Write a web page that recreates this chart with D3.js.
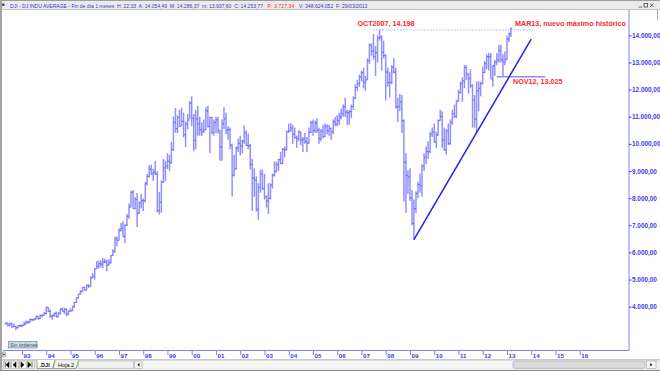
<!DOCTYPE html>
<html>
<head>
<meta charset="utf-8">
<script src="https://cdn.jsdelivr.net/npm/d3@7"></script>
<style>
  body { margin: 0; background: #fff; }
  svg { display: block; font-family: "Liberation Sans", Arial, sans-serif; }
</style>
</head>
<body>
<div id="chart"></div>
<script>
// monthly bars of the DJI, first bar = May 1992, last bar = Mar 2013
var firstMonth = "1992-05";

var opens = [
  3359,3397,3319,3394,3257,3272,3226,3305,
  3301,3310,3371,3435,3428,3527,3516,3540,3651,3555,3681,3684,
  3754,3978,3832,3636,3682,3758,3625,3765,3913,3843,3908,3739,
  3834,3844,4011,4158,4321,4465,4556,4709,4611,4789,4756,5075,
  5117,5395,5486,5587,5569,5643,5655,5529,5616,5882,6029,6522,
  6448,6813,6878,6584,7009,7331,7673,8223,7622,7945,7442,7823,
  7908,7907,8546,8800,9063,8900,8952,8883,7539,7843,8592,9117,
  9181,9359,9307,9786,10789,10560,10971,10655,10829,10337,10730,10878,
  11497,10941,10128,10922,10734,10522,10448,10522,11215,10651,10971,10415,
  10787,10887,10495,9879,10735,10912,10502,10523,9950,8848,9075,9852,
  10022,9920,10106,10404,9946,9925,9243,8737,8664,7592,8397,8896,
  8342,8054,7891,7992,8480,8850,8985,9234,9416,9275,9801,9783,
  10454,10488,10584,10358,10226,10189,10436,10140,10174,10080,10028,10428,
  10783,10490,10766,10504,10193,10467,10275,10641,10482,10569,10440,10806,
  10718,10865,10993,11109,11367,11168,11150,11186,11381,11679,12081,12222,
  12463,12622,12269,12354,13063,13628,13409,13212,13358,13896,13930,13372,
  13265,12650,12266,12263,12820,12638,11350,11378,11544,10851,9325,8829,
  8776,8001,7063,7609,8168,8500,8447,9172,9496,9712,9713,10345,
  10428,10067,10325,10857,11009,10137,9774,10466,10015,10788,11119,11006,
  11578,11892,12226,12320,12811,12570,12414,12143,11614,10913,11955,12046,
  12218,12633,12952,13212,13214,12394,12880,13009,13091,13437,13097,13026,
  13104,13861,14054.49
];
var highs = [
  3414,3413,3404,3395,3383,3285,3318,3340,
  3343,3450,3495,3482,3562,3553,3578,3663,3660,3700,3710,3800,
  3998,3985,3900,3720,3780,3820,3782,3935,3970,3960,3930,3870,
  3945,4030,4170,4340,4470,4605,4730,4735,4801,4825,5110,5235,
  5420,5680,5700,5710,5800,5770,5735,5750,5905,6120,6560,6600,
  6890,7080,7150,7040,7420,7800,8260,8300,8030,8190,7880,8150,
  7990,8590,8900,9210,9230,9080,9370,8990,8230,8650,9440,9380,
  9650,9600,10080,11010,11320,11050,11250,11330,11150,10830,11100,11570,
  11750,11100,11250,11400,11000,10800,10900,11350,11400,11000,11000,10900,
  11000,11000,10500,10900,11350,11150,10650,10600,10000,9600,9900,10200,
  10300,10150,10680,10500,10380,10000,9450,9100,8800,8550,9050,9050,
  8900,8100,8550,8550,8900,9350,9350,9450,9700,9850,9900,10480,
  10750,10760,10700,10600,10300,10500,10450,10250,10400,10250,10600,10850,
  10900,10850,10950,10600,10550,10700,10750,10720,10700,10600,10900,10990,
  11050,11150,11300,11450,11700,11250,11250,11450,11750,12200,12350,12550,
  12700,12800,12500,13150,13700,13700,14050,13600,14000,14198,14000,13800,
  13300,12800,12650,12900,13150,12800,11700,11850,11800,10900,9650,9030,
  9100,8300,7950,8250,8600,8900,9250,9650,9900,10100,10450,10600,
  10750,10450,10900,11260,11200,10600,10550,10750,10900,11250,11450,11600,
  12000,12300,12450,12900,12900,12600,12750,12200,11800,12300,12300,12300,
  12850,13050,13300,13350,13350,12900,13100,13350,13650,13650,13300,13400,
  13980,14100,14286.37
];
var lows = [
  3337,3273,3280,3228,3249,3136,3200,3255,
  3242,3290,3345,3370,3407,3463,3482,3527,3526,3545,3600,3666,
  3715,3800,3593,3520,3630,3612,3611,3710,3820,3740,3650,3675,
  3825,3830,3960,4140,4310,4445,4540,4585,4600,4690,4740,5030,
  5000,5390,5400,5450,5420,5600,5310,5520,5590,5880,6000,6230,
  6440,6760,6580,6340,6970,7240,7660,7620,7580,6940,7420,7630,
  7530,7850,8470,8770,8850,8630,8850,7470,7400,7470,8560,8620,
  9070,9000,9270,9740,10410,10400,10620,10660,10240,9880,10530,10910,
  10650,9730,9800,10300,10300,10300,10400,10500,10600,9650,10350,10300,
  10400,10380,9380,9380,10550,10350,10150,9800,8060,8800,9050,9700,
  9580,9650,10000,9920,9800,9050,7530,8050,7500,7200,8200,8300,
  7950,7650,7420,7950,8350,8800,8950,9000,9250,9250,9500,9750,
  10400,10450,10000,10200,9850,10100,9950,9700,10000,9700,10000,10400,
  10300,10400,10400,10000,10100,10200,10250,10350,10300,10150,10350,10650,
  10650,10700,10900,11000,11000,10700,10700,10950,11250,11650,11950,12100,
  12300,12050,11950,12350,12950,13250,13100,12500,13000,13800,12700,13150,
  11600,12100,11700,12200,12600,11300,10800,11200,10400,7880,7450,8150,
  7900,7000,6470,7450,8000,8200,8050,9000,9250,9450,9650,10250,
  10050,9850,10300,10850,9850,9750,9600,9950,9950,10700,10950,10950,
  11550,11850,11550,12050,12350,11850,12050,10600,10600,10400,11200,11750,
  12200,12600,12750,12700,12400,12100,12500,12900,13000,13000,12471,12900,
  13100,13750,13937.60
];
var closes = [
  3397,3319,3394,3257,3272,3226,3305,3301,
  3310,3371,3435,3428,3527,3516,3540,3651,3555,3681,3684,3754,
  3978,3832,3636,3682,3758,3625,3765,3913,3843,3908,3739,3834,
  3844,4011,4158,4321,4465,4556,4709,4611,4789,4756,5075,5117,
  5395,5486,5587,5569,5643,5655,5529,5616,5882,6029,6522,6448,
  6813,6878,6584,7009,7331,7673,8223,7622,7945,7442,7823,7908,
  7907,8546,8800,9063,8900,8952,8883,7539,7843,8592,9117,9181,
  9359,9307,9786,10789,10560,10971,10655,10829,10337,10730,10878,11497,
  10941,10128,10922,10734,10522,10448,10522,11215,10651,10971,10415,10787,
  10887,10495,9879,10735,10912,10502,10523,9950,8848,9075,9852,10022,
  9920,10106,10404,9946,9925,9243,8737,8664,7592,8397,8896,8342,
  8054,7891,7992,8480,8850,8985,9234,9416,9275,9801,9783,10454,
  10488,10584,10358,10226,10189,10436,10140,10174,10080,10028,10428,10783,
  10490,10766,10504,10193,10467,10275,10641,10482,10569,10440,10806,10718,
  10865,10993,11109,11367,11168,11150,11186,11381,11679,12081,12222,12463,
  12622,12269,12354,13063,13628,13409,13212,13358,13896,13930,13372,13265,
  12650,12266,12263,12820,12638,11350,11378,11544,10851,9325,8829,8776,
  8001,7063,7609,8168,8500,8447,9172,9496,9712,9713,10345,10428,
  10067,10325,10857,11009,10137,9774,10466,10015,10788,11119,11006,11578,
  11892,12226,12320,12811,12570,12414,12143,11614,10913,11955,12046,12218,
  12633,12952,13212,13214,12394,12880,13009,13091,13437,13097,13026,13104,
  13861,14054,14253.77
];

var yearTicks = d3.range(1993, 2017);
var priceTicks = [4000, 5000, 6000, 7000, 8000, 9000, 10000, 11000, 12000, 13000, 14000];

// drawn lines
var trendLine = [["2009-03", 6470], ["2014-01", 13860]];
var supportLine = [["2012-08", 12471], ["2014-08", 12471]];
var oldHighLine = [["2007-07", 14198], ["2014-02", 14198]];

// annotations
var notes = [
  { text: "OCT2007, 14.198", month: "2006-11", value: 14198, dy: -3.6 },
  { text: "MAR13, nuevo máximo histórico", month: "2013-05", value: 14198, dy: -3.6 },
  { text: "NOV12, 13.025", month: "2013-04", value: 12471, dy: 7.6 }
];

// header line of the chart window, in three pieces (start x, width)
var headerParts = [
  { t: "DJI - DJ INDU AVERAGE - Fin de día 1 meses  H: 22:33  A: 14.054,49  M: 14.286,37  m: 13.937,60  C: 14.253,77", c: "#3535d8", x0: 10, w: 253 },
  { t: "P: 3.727,34", c: "#ff3030", x0: 267.5, w: 27 },
  { t: "V: 348.624.052  F: 29/03/2013", c: "#3535d8", x0: 299, w: 68.5 }
];

var W = 660, H = 371;
var parseMonth = d3.timeParse("%Y-%m");

var bars = closes.map(function(c, i) {
  return {
    date: d3.timeMonth.offset(parseMonth(firstMonth), i),
    o: opens[i], h: highs[i], l: lows[i], c: c
  };
});

var svg = d3.select("#chart").append("svg")
  .attr("width", W)
  .attr("height", H);

svg.append("rect").attr("width", W).attr("height", H).attr("fill", "#fff");

// scales
var x = d3.scaleTime()
  .domain([new Date(1993, 0, 1), new Date(2016, 0, 1)])
  .range([22, 579.7]);
var y = d3.scaleLinear()
  .domain([4000, 14000])
  .range([306.7, 35.3]);

var es = d3.formatLocale({ decimal: ",", thousands: ".", grouping: [3], currency: ["", ""] });
var priceFmt = es.format(",.2f");

// ---- bars
var gBars = svg.append("g");
gBars.selectAll("line.hl")
  .data(bars)
  .enter().append("line")
  .attr("class", "hl")
  .attr("x1", function(d) { return x(d.date); })
  .attr("x2", function(d) { return x(d.date); })
  .attr("y1", function(d) { return y(d.h); })
  .attr("y2", function(d) { return y(d.l); })
  .attr("stroke", "#9090ff")
  .attr("stroke-width", 1.5);
gBars.selectAll("line.op")
  .data(bars)
  .enter().append("line")
  .attr("x1", function(d) { return x(d.date) - 1.3; })
  .attr("x2", function(d) { return x(d.date); })
  .attr("y1", function(d) { return y(d.o); })
  .attr("y2", function(d) { return y(d.o); })
  .attr("stroke", "#6c6cf4")
  .attr("stroke-width", 1);
gBars.selectAll("line.cl")
  .data(bars)
  .enter().append("line")
  .attr("x1", function(d) { return x(d.date); })
  .attr("x2", function(d) { return x(d.date) + 1.3; })
  .attr("y1", function(d) { return y(d.c); })
  .attr("y2", function(d) { return y(d.c); })
  .attr("stroke", "#6c6cf4")
  .attr("stroke-width", 1);

// ---- drawn lines
function seg(pts) {
  return d3.line()
    .x(function(p) { return x(parseMonth(p[0])); })
    .y(function(p) { return y(p[1]); })(pts);
}
svg.append("path").attr("d", seg(oldHighLine))
  .attr("fill", "none").attr("stroke", "#8484ff").attr("stroke-width", 1)
  .attr("stroke-dasharray", "1,2");
svg.append("path").attr("d", seg(supportLine))
  .attr("fill", "none").attr("stroke", "#8a8aff").attr("stroke-width", 1.5);
svg.append("path").attr("d", seg(trendLine))
  .attr("fill", "none").attr("stroke", "#2424e6").attr("stroke-width", 1.5);

svg.selectAll("text.note")
  .data(notes)
  .enter().append("text")
  .attr("class", "note")
  .attr("x", function(d) { return x(parseMonth(d.month)); })
  .attr("y", function(d) { return y(d.value) + d.dy; })
  .attr("fill", "#ff2828")
  .attr("font-size", 7.2)
  .attr("font-weight", "bold")
  .text(function(d) { return d.text; });

// ---- axes
var xAxis = svg.append("g")
  .attr("transform", "translate(0,350.5)")
  .call(d3.axisBottom(x)
    .tickValues(yearTicks.map(function(yr) { return new Date(yr, 0, 1); }))
    .tickFormat(d3.timeFormat("%y"))
    .tickSize(4.5));
xAxis.select(".domain").attr("d", "M3,0H629").attr("stroke", "#8080ff");
xAxis.selectAll(".tick line").attr("stroke", "#8080ff");
xAxis.selectAll(".tick text")
  .attr("text-anchor", "start")
  .attr("x", 1)
  .attr("y", 3.5)
  .attr("fill", "#3b3bf0")
  .attr("font-size", 6.2)
  .attr("font-weight", "bold")
  .attr("font-family", "Liberation Sans, Arial, sans-serif");

var yAxis = svg.append("g")
  .attr("transform", "translate(629,0)")
  .call(d3.axisRight(y).tickValues(priceTicks).tickFormat(priceFmt).tickSize(2.5));
yAxis.select(".domain").attr("d", "M0,9V350.5").attr("stroke", "#8080ff");
yAxis.selectAll(".tick line").attr("stroke", "#3b3bf0");
yAxis.selectAll(".tick text")
  .attr("x", 3)
  .attr("fill", "#3b3bf0")
  .attr("font-size", 6.4)
  .attr("font-weight", "bold")
  .attr("font-family", "Liberation Sans, Arial, sans-serif");
svg.append("path").attr("d", "M629,9.5H657.5V20").attr("fill", "none").attr("stroke", "#9a9aff");

// ---- window frame: header
svg.append("rect").attr("x", 0).attr("y", 0).attr("width", W).attr("height", 9.5).attr("fill", "#ebebeb");
svg.append("line").attr("x1", 0).attr("x2", W).attr("y1", 0.5).attr("y2", 0.5).attr("stroke", "#9c9c9c");
svg.append("line").attr("x1", 0).attr("x2", W).attr("y1", 9.5).attr("y2", 9.5).attr("stroke", "#c4c4c4");
svg.append("rect").attr("x", 2).attr("y", 3.5).attr("width", 2.5).attr("height", 2.5).attr("fill", "#555");
// each header piece gets the font size that makes it as wide as in the window
svg.selectAll("text.head")
  .data(headerParts)
  .enter().append("text")
  .attr("class", "head")
  .attr("x", function(d) { return d.x0; })
  .attr("y", 7.6)
  .attr("font-size", 5.2)
  .attr("fill", function(d) { return d.c; })
  .style("white-space", "pre")
  .text(function(d) { return d.t; })
  .each(function(d) {
    var len = this.getComputedTextLength();
    d3.select(this).attr("font-size", 5.2 * d.w / len);
  });
// window buttons
var wb = svg.append("g").attr("stroke", "#444").attr("fill", "none").attr("stroke-width", 0.8);
wb.append("line").attr("x1", 638.5).attr("x2", 642).attr("y1", 7).attr("y2", 7);
wb.append("rect").attr("x", 644).attr("y", 3.5).attr("width", 3.5).attr("height", 3.5);
wb.append("path").attr("d", "M650,3.5L653.5,7M653.5,3.5L650,7");

// left border
svg.append("rect").attr("x", 0).attr("y", 0).attr("width", 2).attr("height", H).attr("fill", "#a4a4a4");

// "Sin órdenes" box
svg.append("rect").attr("x", 8.5).attr("y", 341.5).attr("width", 28.5).attr("height", 6.5)
  .attr("fill", "#cfdbe8").attr("stroke", "#7f93ad").attr("stroke-width", 0.8);
svg.append("text").attr("x", 10).attr("y", 346.7).attr("font-size", 5.2).attr("fill", "#40506a").text("Sin órdenes");

// small button left of the time axis
svg.append("rect").attr("x", 2.5).attr("y", 352).attr("width", 3).attr("height", 5).attr("fill", "#e8e8e8").attr("stroke", "#777").attr("stroke-width", 0.5);
svg.append("path").attr("d", "M3.4,353.4L4.9,354.5L3.4,355.6Z").attr("fill", "#000");

// ---- bottom tab bar
var bar = svg.append("g");
bar.append("rect").attr("x", 2).attr("y", 359.5).attr("width", W - 2).attr("height", H - 359.5).attr("fill", "#ececec");
bar.append("line").attr("x1", 2).attr("x2", W).attr("y1", 359.8).attr("y2", 359.8).attr("stroke", "#b8b8b8");
bar.append("line").attr("x1", 0).attr("x2", W).attr("y1", 370.5).attr("y2", 370.5).attr("stroke", "#8c8c8c");
var navGlyphs = ["M5.3,362v5.5M9,362l-3,2.75l3,2.75z", "M16,362l-3,2.75l3,2.75z", "M21,362l3,2.75l-3,2.75z", "M28,362l3,2.75l-3,2.75zM32,362v5.5"];
navGlyphs.forEach(function(p, i) {
  bar.append("rect").attr("x", 3.5 + i * 8).attr("y", 361).attr("width", 7).attr("height", 7.5)
    .attr("fill", "#f6f6f6").attr("stroke", "#999").attr("stroke-width", 0.5);
  bar.append("path").attr("d", p).attr("fill", "#000").attr("stroke", "#000").attr("stroke-width", 0.6);
});
bar.append("path").attr("d", "M37,360V368.5H52.5L55,360").attr("fill", "#fff").attr("stroke", "#666").attr("stroke-width", 0.6);
bar.append("text").attr("x", 39.5).attr("y", 366.8).attr("font-size", 5.6).attr("font-weight", "bold").attr("fill", "#111").text(".DJI");
bar.append("path").attr("d", "M55,360.5L53,368.5H76L78.5,360.5").attr("fill", "#f2f2f2").attr("stroke", "#666").attr("stroke-width", 0.6);
bar.append("text").attr("x", 58).attr("y", 366.8).attr("font-size", 5.6).attr("fill", "#111").text("Hoja 2");
bar.append("rect").attr("x", 78.5).attr("y", 361).attr("width", 55).attr("height", 7.5).attr("fill", "#f0f0f0").attr("stroke", "#aaa").attr("stroke-width", 0.5);
bar.append("rect").attr("x", 134.5).attr("y", 361).attr("width", 7.5).attr("height", 7.5).attr("fill", "#f6f6f6").attr("stroke", "#999").attr("stroke-width", 0.5);
bar.append("path").attr("d", "M139.5,363l-2,1.75l2,1.75z").attr("fill", "#000");
// horizontal scroll bar
bar.append("rect").attr("x", 143).attr("y", 361).attr("width", 502).attr("height", 7.5).attr("fill", "#f4f4f4");
bar.append("rect").attr("x", 513).attr("y", 361.2).attr("width", 132).attr("height", 7.2).attr("rx", 2)
  .attr("fill", "#dcdcdc").attr("stroke", "#a8a8a8").attr("stroke-width", 0.6);
bar.append("rect").attr("x", 646.5).attr("y", 361).attr("width", 9.5).attr("height", 7.5).attr("fill", "#f6f6f6").attr("stroke", "#999").attr("stroke-width", 0.5);
bar.append("path").attr("d", "M650.3,363l2,1.75l-2,1.75z").attr("fill", "#000");
</script>
</body>
</html>
